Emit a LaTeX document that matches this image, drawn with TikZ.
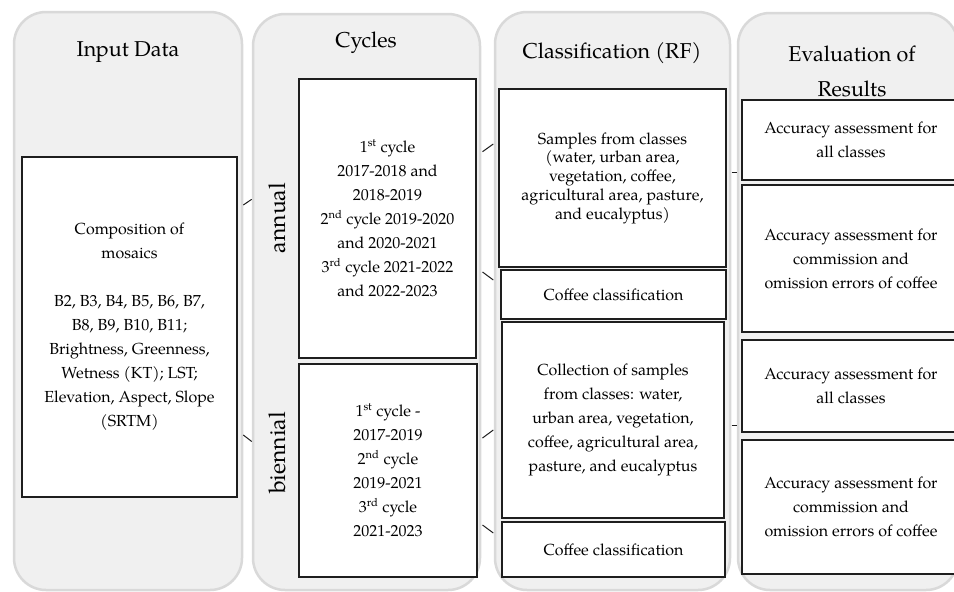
\documentclass[tikz,border=0pt]{standalone}
\usepackage{fontspec}
\setmainfont{TeX Gyre Pagella}
\definecolor{panelfill}{RGB}{240,240,240}
\definecolor{panelline}{RGB}{217,217,217}
\definecolor{boxline}{RGB}{30,30,30}
\begin{document}
\begin{tikzpicture}[x=1pt,y=-1pt,
  panel/.style={draw=panelline,fill=panelfill,line width=2.5pt,rounded corners=32pt,inner sep=0pt},
  box/.style={draw=boxline,fill=white,line width=1.2pt,inner sep=0pt,align=center,
    font=\fontsize{16}{24}\selectfont},
  header/.style={inner sep=0pt,align=center,font=\fontsize{21.5}{35}\selectfont},
  side/.style={inner sep=0pt,rotate=90,font=\fontsize{23}{28}\selectfont},
  conn/.style={draw=boxline,line width=1pt}]
\useasboundingbox (0,0) rectangle (954,592);
% panels
\node[panel,minimum width=228pt,minimum height=578pt] (p1) at (128,301) {};
\node[panel,minimum width=227pt,minimum height=576pt] (p2) at (366.5,302) {};
\node[panel,minimum width=235pt,minimum height=578pt] (p3) at (612.5,301) {};
\node[panel,minimum width=220pt,minimum height=577pt] (p4) at (848,301.5) {};
% headers
\node[header] (h1) at (128,52) {Input Data};
\node[header] (h2) at (366,43) {Cycles};
\node[header] (h3) at (612,53) {Classification (RF)};
\node[header] (h4) at (852,71.5) {Evaluation of\\Results};
% side labels
\node[side] (lann) at (277,218) {annual};
\node[side] (lbie) at (277,453) {biennial};
% boxes
\node[box,minimum width=215pt,minimum height=340pt] (inp) at (129.5,327)
  {Composition of\\mosaics\\[24pt]B2, B3, B4, B5, B6, B7,\\B8, B9, B10, B11;\\Brightness, Greenness,\\Wetness (KT); LST;\\Elevation, Aspect, Slope\\(SRTM)};
\node[box,minimum width=177pt,minimum height=279pt] (ann) at (387.5,218.5)
  {1\textsuperscript{st} cycle\\2017-2018 and\\2018-2019\\2\textsuperscript{nd} cycle 2019-2020\\and 2020-2021\\3\textsuperscript{rd} cycle 2021-2022\\and 2022-2023};
\node[box,minimum width=178pt,minimum height=213pt] (bie) at (388,470.5)
  {1\textsuperscript{st} cycle -\\2017-2019\\2\textsuperscript{nd} cycle\\2019-2021\\3\textsuperscript{rd} cycle\\2021-2023};
\node[box,minimum width=227pt,minimum height=178pt,font=\fontsize{16}{18.75}\selectfont] (smp) at (612.5,178)
  {Samples from classes\\(water, urban area,\\vegetation, coffee,\\agricultural area, pasture,\\and eucalyptus)};
\node[box,minimum width=225pt,minimum height=49pt] (cof1) at (613.5,294.5) {Coffee classification};
\node[box,minimum width=222pt,minimum height=196pt] (col) at (613,420)
  {Collection of samples\\from classes: water,\\urban area, vegetation,\\coffee, agricultural area,\\pasture, and eucalyptus};
\node[box,minimum width=223pt,minimum height=55pt] (cof2) at (613.5,549.5) {Coffee classification};
\node[box,minimum width=218pt,minimum height=80pt] (ev1) at (851,140) {Accuracy assessment for\\all classes};
\node[box,minimum width=218pt,minimum height=147pt] (ev2) at (851,258.5) {Accuracy assessment for\\commission and\\omission errors of coffee};
\node[box,minimum width=218pt,minimum height=92pt] (ev3) at (851,386) {Accuracy assessment for\\all classes};
\node[box,minimum width=218pt,minimum height=134pt] (ev4) at (851,507) {Accuracy assessment for\\commission and\\omission errors of coffee};
% connector stubs
\coordinate (c1a) at (243.3,205); \coordinate (c1b) at (251.7,199.3);
\coordinate (c2a) at (243.3,435); \coordinate (c2b) at (251.7,441.5);
\coordinate (c3a) at (482.5,151.7); \coordinate (c3b) at (493.3,144);
\coordinate (c4a) at (482.5,272); \coordinate (c4b) at (493.3,280);
\coordinate (c5a) at (482.5,438); \coordinate (c5b) at (493.3,430);
\coordinate (c6a) at (482.5,525); \coordinate (c6b) at (493.3,533);
\coordinate (c7a) at (731.7,172); \coordinate (c7b) at (736.7,172);
\coordinate (c8a) at (731.7,425); \coordinate (c8b) at (736.7,425);
\draw[conn] (c1a) -- (c1b);
\draw[conn] (c2a) -- (c2b);
\draw[conn] (c3a) -- (c3b);
\draw[conn] (c4a) -- (c4b);
\draw[conn] (c5a) -- (c5b);
\draw[conn] (c6a) -- (c6b);
\draw[conn] (c7a) -- (c7b);
\draw[conn] (c8a) -- (c8b);
\end{tikzpicture}
\end{document}
